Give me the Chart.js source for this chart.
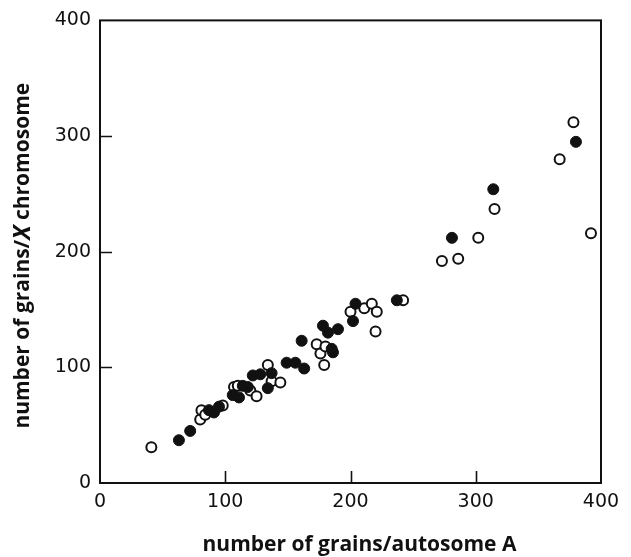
<!DOCTYPE html>
<html>
<head>
<meta charset="utf-8">
<script src="https://cdn.jsdelivr.net/npm/chart.js@4"></script>
<style>
  html, body { margin: 0; padding: 0; background: #fff; }
  #wrap { width: 631px; height: 557px; position: relative; }
</style>
</head>
<body>
<div id="wrap"><canvas id="c" width="631" height="557"></canvas></div>
<script>
// ---- data ----
const filledX = [63, 72, 87, 91, 95, 106, 111, 114, 118, 122, 128, 134, 137, 149, 156, 163, 161, 178, 182, 190, 185, 186, 202, 204, 237, 281, 314, 380];
const filledY = [37, 45, 63, 61, 66, 76, 74, 84, 83, 93, 94, 82, 95, 104, 104, 99, 123, 136, 130, 133, 116, 113, 140, 155, 158, 212, 254, 295];
const openX = [41, 80, 81, 84, 98, 107, 110, 120, 125, 134, 137, 144, 173, 176, 180, 179, 200, 211, 217, 221, 220, 242, 273, 286, 302, 315, 367, 378, 392];
const openY = [31, 55, 63, 59, 67, 83, 84, 80, 75, 102, 88, 87, 120, 112, 118, 102, 148, 151, 155, 148, 131, 158, 192, 194, 212, 237, 280, 312, 216];
const xTickValues = [0, 100, 200, 300, 400];
const yTickValues = [0, 100, 200, 300, 400];
const xTitle = "number of grains/autosome A";
const yTitleParts = ["number of grains/", "X", " chromosome"];

const toPts = (xs, ys) => xs.map((x, i) => ({ x: x, y: ys[i] }));

const framePlugin = {
  id: 'frame',
  beforeDatasetsDraw(chart) {
    const { ctx, chartArea: a, scales } = chart;
    ctx.save();
    ctx.strokeStyle = '#111';
    ctx.lineWidth = 2;
    ctx.strokeRect(a.left, a.top, a.right - a.left, a.bottom - a.top);
    ctx.lineWidth = 1.6;
    ctx.beginPath();
    xTickValues.slice(1, -1).forEach(v => {
      const px = Math.round(scales.x.getPixelForValue(v)) + 0.5;
      ctx.moveTo(px, a.bottom);
      ctx.lineTo(px, a.bottom - 12);
    });
    yTickValues.slice(1, -1).forEach(v => {
      const py = Math.round(scales.y.getPixelForValue(v)) + 0.5;
      ctx.moveTo(a.left, py);
      ctx.lineTo(a.left + 12, py);
    });
    ctx.stroke();
    ctx.restore();
  },
  afterDraw(chart) {
    const { ctx, chartArea: a } = chart;
    ctx.save();
    ctx.fillStyle = '#111';
    ctx.textBaseline = 'middle';
    // x title
    ctx.font = 'bold 21px "Open Sans"';
    ctx.textAlign = 'center';
    ctx.fillText(xTitle, (a.left + a.right) / 2 + 9, 545);
    // y title (rotated) with italic X
    ctx.translate(23, (a.top + a.bottom) / 2 + 4);
    ctx.rotate(-Math.PI / 2);
    const fonts = ['bold 21px "Open Sans"', 'italic bold 23.5px "Open Sans"', 'bold 21px "Open Sans"'];
    const widths = yTitleParts.map((t, i) => { ctx.font = fonts[i]; return ctx.measureText(t).width; });
    let x = -widths.reduce((s, w) => s + w, 0) / 2;
    ctx.textAlign = 'left';
    yTitleParts.forEach((t, i) => { ctx.font = fonts[i]; ctx.fillText(t, x, 0); x += widths[i]; });
    ctx.restore();
  }
};

new Chart(document.getElementById('c'), {
  type: 'scatter',
  data: {
    datasets: [
      {
        label: 'filled',
        data: toPts(filledX, filledY),
        pointRadius: 5.5,
        pointBorderWidth: 1,
        pointBackgroundColor: '#111',
        pointBorderColor: '#111'
      },
      {
        label: 'open',
        data: toPts(openX, openY),
        pointRadius: 5,
        pointBorderWidth: 2,
        pointBackgroundColor: '#fff',
        pointBorderColor: '#111'
      }
    ]
  },
  options: {
    responsive: false,
    animation: false,
    layout: { padding: { left: 0, right: 30, top: 19, bottom: 0 } },
    plugins: { legend: { display: false }, tooltip: { enabled: false } },
    scales: {
      x: {
        type: 'linear', min: 0, max: 400,
        afterBuildTicks: s => { s.ticks = xTickValues.map(v => ({ value: v })); },
        afterFit: s => { s.height = 74; },
        grid: { display: false, drawTicks: false },
        border: { display: false },
        ticks: { padding: 8, color: '#111', font: { family: 'DejaVu Sans', size: 19 }, maxRotation: 0 }
      },
      y: {
        type: 'linear', min: 0, max: 400,
        afterBuildTicks: s => { s.ticks = yTickValues.map(v => ({ value: v })); },
        afterFit: s => { s.width = 100; },
        grid: { display: false, drawTicks: false },
        border: { display: false },
        ticks: { padding: 9, color: '#111', font: { family: 'DejaVu Sans', size: 19 } }
      }
    }
  },
  plugins: [framePlugin]
});
</script>
</body>
</html>
